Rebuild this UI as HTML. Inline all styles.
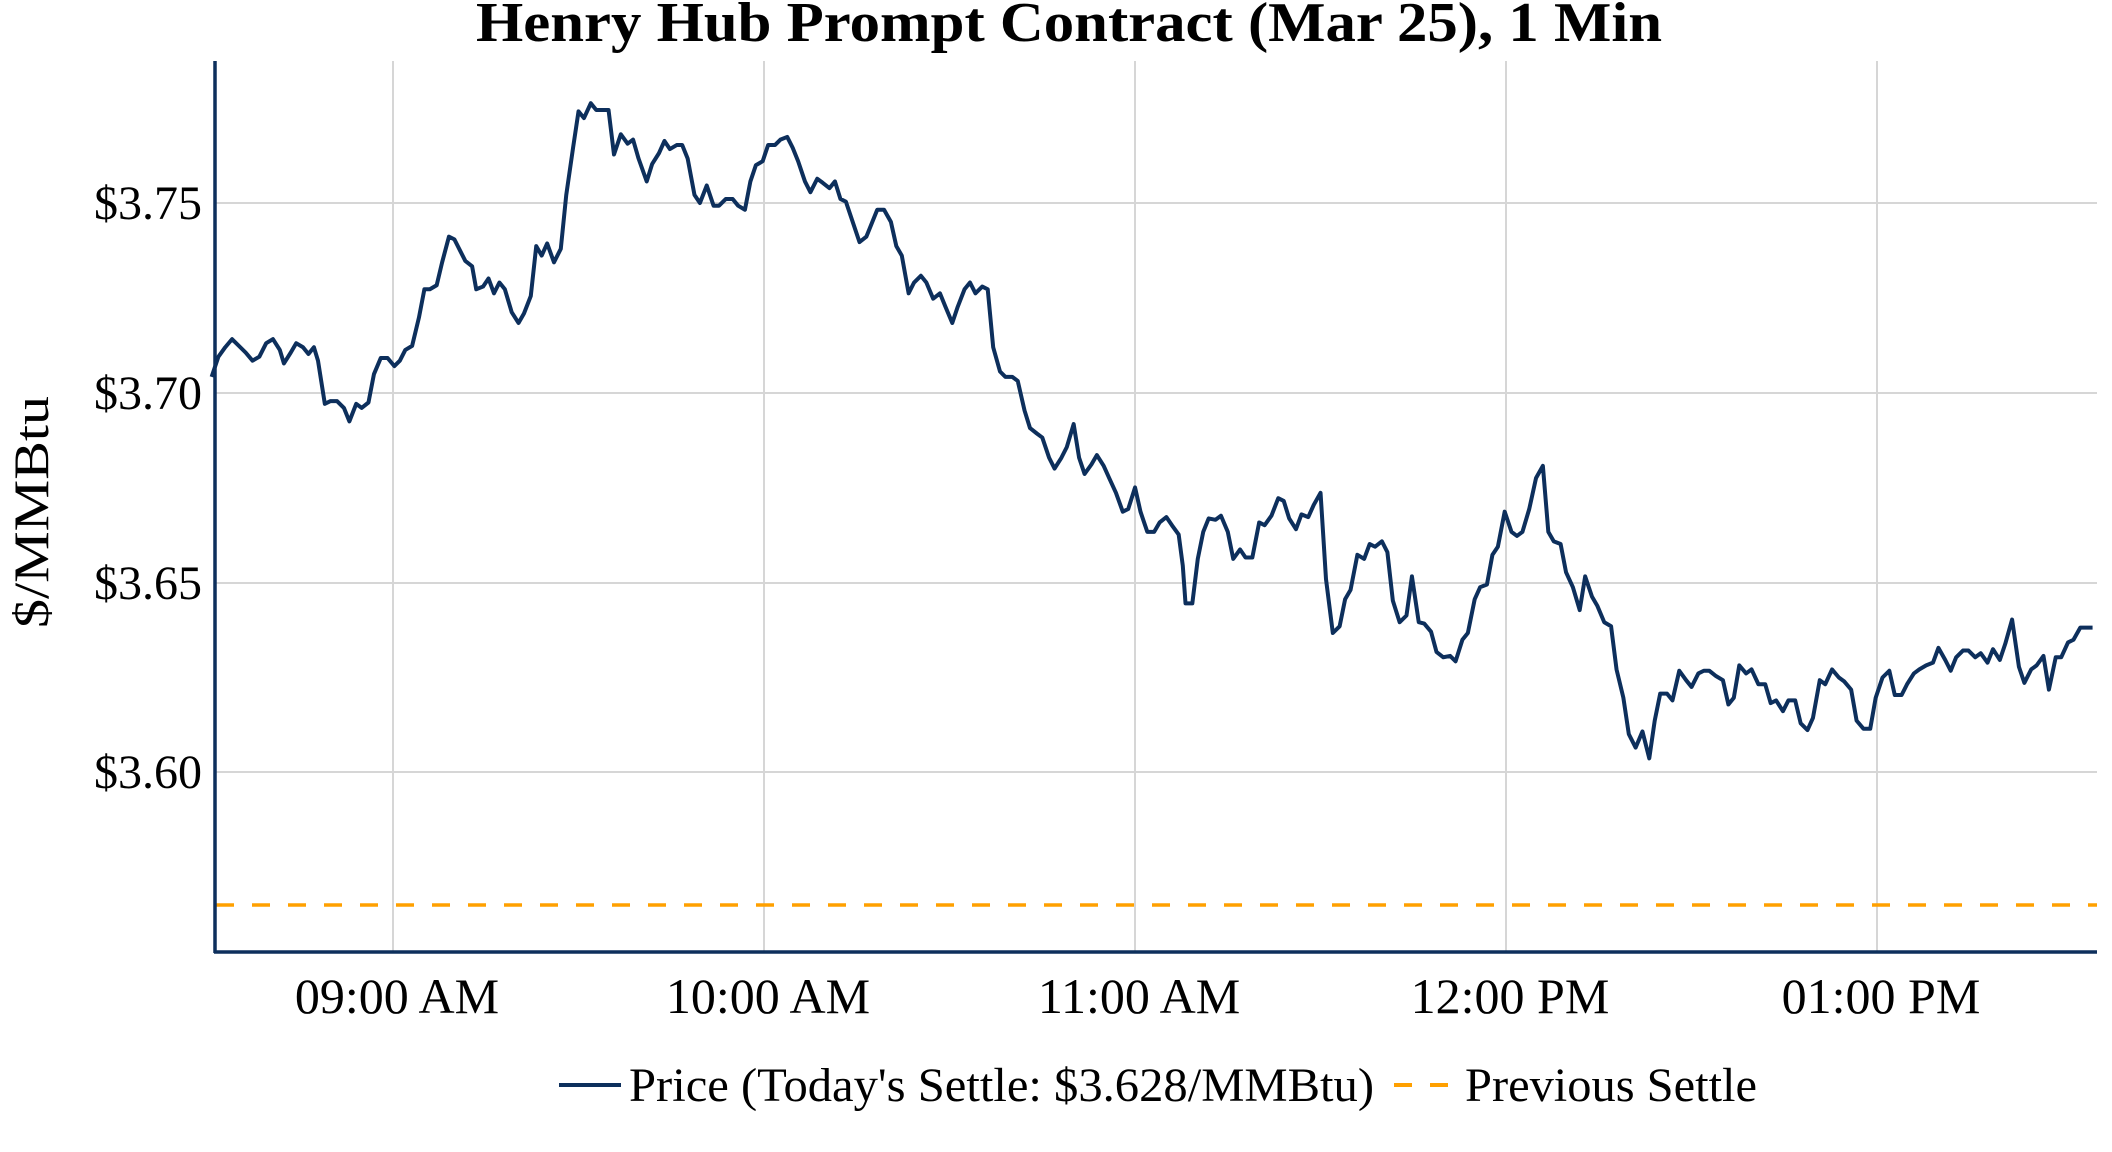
<!DOCTYPE html>
<html><head><meta charset="utf-8"><style>
html,body{margin:0;padding:0;background:#fff;}
svg{display:block;font-family:"Liberation Serif",serif;}
</style></head><body>
<svg width="2112" height="1152" viewBox="0 0 2112 1152" xmlns="http://www.w3.org/2000/svg">
<rect width="2112" height="1152" fill="#fff"/>
<text x="1069" y="41" font-size="56" font-weight="bold" text-anchor="middle" textLength="1186" lengthAdjust="spacingAndGlyphs">Henry Hub Prompt Contract (Mar 25), 1 Min</text>
<g stroke="#d6d6d6" stroke-width="2">
<line x1="393" y1="61" x2="393" y2="952"/>
<line x1="764" y1="61" x2="764" y2="952"/>
<line x1="1135" y1="61" x2="1135" y2="952"/>
<line x1="1506" y1="61" x2="1506" y2="952"/>
<line x1="1877" y1="61" x2="1877" y2="952"/>
<line x1="214" y1="203" x2="2097" y2="203"/>
<line x1="214" y1="393" x2="2097" y2="393"/>
<line x1="214" y1="583" x2="2097" y2="583"/>
<line x1="214" y1="772" x2="2097" y2="772"/>
</g>
<line x1="216" y1="905" x2="2097" y2="905" stroke="#ffa000" stroke-width="3.5" stroke-dasharray="18,18"/>
<g transform="matrix(1.364,0,0,1.348,-3.9,-0.55)">
<polyline fill="none" stroke="#0d2f5c" stroke-width="4" vector-effect="non-scaling-stroke" stroke-linejoin="round" points="158,280 163,265 168,258 173,252 178,257 183,262 188,268 193,265 198,255 203,252 208,260 211,270 216,262 220,255 225,258 229,263 233,258 236,268 241,300 245,298 250,298 255,303 259,313 264,300 268,303 273,299 277,278 282,266 287,266 292,272 296,268 300,260 305,257 310,236 314,215 318,215 323,212 327,195 332,176 336,178 340,186 344,194 349,198 352,215 357,213 361,207 365,218 369,210 373,215 378,232 383,240 387,233 392,220 396,183 400,190 404,181 409,195 414,185 418,145 423,110 427,83 431,88 436,77 440,82 445,82 449,82 453,115 458,100 463,107 467,104 471,118 477,135 481,122 486,114 490,105 494,111 499,108 503,108 507,118 512,145 516,151 521,138 526,153 530,153 535,148 540,148 544,153 549,156 553,135 557,123 562,120 566,108 571,108 575,104 580,102 584,110 588,120 593,135 597,143 602,133 606,136 611,140 615,135 619,148 623,150 628,165 633,180 638,176 642,166 646,156 651,156 656,165 660,183 664,190 669,218 673,210 678,205 682,210 687,222 692,218 696,228 701,240 705,228 710,215 714,210 718,218 723,213 727,215 731,258 736,276 740,280 745,280 749,283 754,305 758,318 763,322 767,325 772,340 776,348 781,340 785,332 790,315 794,340 798,352 803,345 807,338 812,346 816,355 821,366 826,380 830,378 835,362 839,380 844,395 849,395 853,388 858,384 862,390 867,397 870,420 872,448 877,448 881,415 885,395 889,385 894,386 898,383 903,395 907,415 912,408 916,414 921,414 926,388 930,390 935,383 940,370 944,372 948,385 953,393 957,382 962,384 966,375 971,366 975,430 980,470 985,465 989,445 993,438 998,412 1003,415 1007,404 1011,406 1016,402 1020,410 1024,446 1029,462 1034,457 1038,428 1043,462 1047,463 1052,469 1056,484 1061,488 1066,487 1070,491 1075,475 1079,470 1084,445 1088,436 1093,434 1097,412 1101,406 1106,380 1111,395 1115,398 1119,395 1124,378 1129,355 1134,346 1138,395 1142,402 1147,404 1151,425 1156,436 1161,453 1165,428 1170,443 1174,450 1179,462 1184,465 1188,497 1193,518 1197,545 1202,555 1207,543 1212,563 1216,535 1220,515 1225,515 1229,520 1234,498 1239,505 1243,510 1248,500 1252,498 1256,498 1261,502 1266,505 1270,523 1274,518 1278,494 1283,500 1287,497 1292,508 1297,508 1301,522 1305,520 1310,528 1314,520 1319,520 1323,537 1328,542 1332,533 1337,505 1341,508 1346,497 1351,503 1355,506 1360,512 1364,535 1369,541 1374,541 1378,518 1383,503 1388,498 1392,516 1397,516 1401,508 1406,500 1410,497 1415,494 1420,492 1424,481 1429,490 1433,498 1437,488 1442,483 1446,483 1451,488 1455,485 1460,492 1464,482 1469,490 1473,478 1478,460 1483,495 1487,507 1492,497 1496,494 1501,487 1505,512 1510,488 1514,488 1519,477 1523,475 1528,466 1533,466 1537,466"/>
</g>
<line x1="215" y1="61" x2="215" y2="953" stroke="#0d2f5c" stroke-width="3.5"/>
<line x1="214" y1="952" x2="2097" y2="952" stroke="#0d2f5c" stroke-width="3.5"/>
<g font-size="48" text-anchor="end">
<text x="202" y="219">$3.75</text>
<text x="202" y="409">$3.70</text>
<text x="202" y="599">$3.65</text>
<text x="202" y="788">$3.60</text>
</g>
<g font-size="50" text-anchor="middle">
<text x="397" y="1013">09:00 AM</text>
<text x="768" y="1013">10:00 AM</text>
<text x="1139" y="1013">11:00 AM</text>
<text x="1510" y="1013">12:00 PM</text>
<text x="1881" y="1013">01:00 PM</text>
</g>
<text transform="translate(48,512) rotate(-90)" font-size="50" text-anchor="middle" textLength="232" lengthAdjust="spacingAndGlyphs">$/MMBtu</text>
<line x1="559" y1="1085" x2="621" y2="1085" stroke="#0d2f5c" stroke-width="4"/>
<text x="629" y="1101" font-size="48" textLength="745" lengthAdjust="spacingAndGlyphs">Price (Today's Settle: $3.628/MMBtu)</text>
<line x1="1394" y1="1085" x2="1449" y2="1085" stroke="#ffa000" stroke-width="4" stroke-dasharray="18,18"/>
<text x="1465" y="1101" font-size="48" textLength="292" lengthAdjust="spacingAndGlyphs">Previous Settle</text>
</svg>
</body></html>
